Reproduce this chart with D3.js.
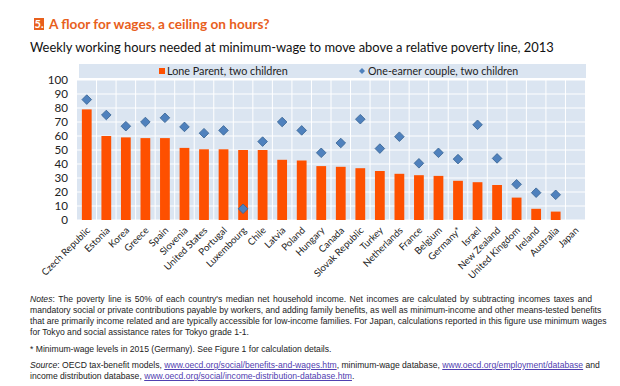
<!DOCTYPE html>
<html>
<head>
<meta charset="utf-8">
<script src="https://cdn.jsdelivr.net/npm/d3@7"></script>
<style>
  body { margin: 0; background: #fff; }
  #chart { position: relative; width: 620px; height: 386px; overflow: hidden; }
  .notes { position: absolute; left: 30px; width: 562px; margin: 0;
           font-family: "Liberation Sans", Arial, sans-serif; font-size: 8.6px;
           line-height: 11px; color: #222; }
  .notes div { text-align: justify; text-align-last: justify; white-space: nowrap; }
  .notes div.last { text-align-last: left; }
  .notes a { color: #5040b0; text-decoration: underline; }
</style>
</head>
<body>
<div id="chart"></div>
<script>
const countries = ["Czech Republic", "Estonia", "Korea", "Greece", "Spain", "Slovenia",
  "United States", "Portugal", "Luxembourg", "Chile", "Latvia", "Poland", "Hungary",
  "Canada", "Slovak Republic", "Turkey", "Netherlands", "France", "Belgium", "Germany*",
  "Israel", "New Zealand", "United Kingdom", "Ireland", "Australia", "Japan"];
const loneParent = [79, 60, 59, 58.5, 58.5, 51.5, 50.5, 50.5, 50, 50, 43, 42.5, 38.5,
  38, 37, 35, 33, 32, 31.5, 28, 27, 25, 16, 8, 6, null];
const oneEarnerCouple = [86, 75, 67, 70, 73, 66.5, 62, 64, 8, 56, 70, 64, 48,
  55, 72, 51, 59.5, 40.5, 48, 43.5, 68, 44, 25.5, 19.5, 18, null];
const yTicks = [0, 10, 20, 30, 40, 50, 60, 70, 80, 90, 100];
const seriesNames = ["Lone Parent, two children", "One-earner couple, two children"];

const width = 620, height = 386;
const plot = { left: 77, right: 585, top: 80, bottom: 220 };
const orange = "#fe5000", blue = "#4f81bd", bg = "#dbe5f1";
const font = "Lato, 'Open Sans', sans-serif";

const svg = d3.select("#chart").append("svg")
  .attr("width", width).attr("height", height)
  .style("position", "absolute").style("left", 0).style("top", 0);

// header
svg.append("rect").attr("x", 34).attr("y", 18).attr("width", 10).attr("height", 12)
  .attr("fill", "#e8601c");
svg.append("text").attr("x", 39).attr("y", 28).attr("text-anchor", "middle")
  .attr("font-family", font).attr("font-weight", "bold").attr("font-size", 11)
  .attr("fill", "#fff").text("5.");
svg.append("text").attr("x", 49).attr("y", 29)
  .attr("font-family", font).attr("font-weight", "bold").attr("font-size", 13.6)
  .attr("fill", "#e8601c").text("A floor for wages, a ceiling on hours?");
svg.append("text").attr("x", 30).attr("y", 52)
  .attr("font-family", font).attr("font-size", 12.9)
  .attr("fill", "#111").text("Weekly working hours needed at minimum-wage to move above a relative poverty line, 2013");

const x = d3.scaleBand().domain(countries)
  .range([plot.left, plot.right]).paddingInner(0.5).paddingOuter(0.25);
const y = d3.scaleLinear().domain([0, 100]).range([plot.bottom, plot.top]);

// plot background + grid
svg.append("rect").attr("x", plot.left).attr("y", y(100))
  .attr("width", plot.right - plot.left).attr("height", y(0) - y(100)).attr("fill", bg);
svg.append("g").selectAll("line").data(yTicks).join("line")
  .attr("x1", plot.left).attr("x2", plot.right)
  .attr("y1", d => y(d)).attr("y2", d => y(d))
  .attr("stroke", "#fff").attr("stroke-width", 1);
svg.append("g").selectAll("line").data(countries.slice(1)).join("line")
  .attr("x1", d => x(d) - x.step() * 0.25).attr("x2", d => x(d) - x.step() * 0.25)
  .attr("y1", y(100)).attr("y2", y(0))
  .attr("stroke", "#fff").attr("stroke-width", 1);

// legend band
svg.append("rect").attr("x", 79).attr("y", 64).attr("width", 507).attr("height", 14)
  .attr("fill", bg);
svg.append("rect").attr("x", 159).attr("y", 68).attr("width", 6).attr("height", 6)
  .attr("fill", orange);
svg.append("text").attr("x", 167).attr("y", 75).attr("font-family", font)
  .attr("font-size", 10.8).attr("fill", "#222").text(seriesNames[0]);
svg.append("path").attr("d", d3.symbol(d3.symbolSquare, 18)())
  .attr("transform", "translate(362,71) rotate(45)").attr("fill", blue);
svg.append("text").attr("x", 368).attr("y", 75).attr("font-family", font)
  .attr("font-size", 10.6).attr("fill", "#222").text(seriesNames[1]);

// bars
svg.append("g").selectAll("rect")
  .data(countries.map((c, i) => ({ c, v: loneParent[i] })).filter(d => d.v != null))
  .join("rect")
  .attr("x", d => x(d.c)).attr("width", x.bandwidth())
  .attr("y", d => y(d.v)).attr("height", d => y(0) - y(d.v))
  .attr("fill", orange);

// diamonds
svg.append("g").selectAll("path")
  .data(countries.map((c, i) => ({ c, v: oneEarnerCouple[i] })).filter(d => d.v != null))
  .join("path")
  .attr("d", d3.symbol(d3.symbolSquare, 46)())
  .attr("transform", d => `translate(${x(d.c) + x.bandwidth() / 2},${y(d.v)}) rotate(45)`)
  .attr("fill", blue).attr("stroke", "#3a6595").attr("stroke-width", 0.8);

// y axis
const yAxis = svg.append("g").attr("transform", `translate(${plot.left},0)`)
  .call(d3.axisLeft(y).tickValues(yTicks).tickSize(0).tickPadding(9));
yAxis.select(".domain").remove();
yAxis.selectAll("text").attr("font-family", font).attr("font-size", 11.6).attr("fill", "#222");

// x axis
const xAxis = svg.append("g").attr("transform", `translate(0,${plot.bottom})`)
  .call(d3.axisBottom(x).tickSize(0));
xAxis.select(".domain").remove();
xAxis.selectAll("text")
  .attr("font-family", font).attr("font-size", 9.6).attr("fill", "#222")
  .attr("text-anchor", "end").attr("dy", 0).attr("y", 0)
  .attr("transform", "translate(4,11) rotate(-45)");

// notes, line by line as in the original
const chart = d3.select("#chart");
const notes = [
  "<i>Notes</i>: The poverty line is 50% of each country's median net household income. Net incomes are calculated by subtracting incomes taxes and",
  "mandatory social or private contributions payable by workers, and adding family benefits, as well as minimum-income and other means-tested benefits",
  "that are primarily income related and are typically accessible for low-income families. For Japan, calculations reported in this figure use minimum wages",
  "for Tokyo and social assistance rates for Tokyo grade 1-1."
];
const footnote = ["* Minimum-wage levels in 2015 (Germany). See Figure 1 for calculation details."];
const source = [
  "<i>Source</i>: OECD tax-benefit models, <a>www.oecd.org/social/benefits-and-wages.htm</a>, minimum-wage database, <a>www.oecd.org/employment/database</a> and",
  "income distribution database, <a>www.oecd.org/social/income-distribution-database.htm</a>."
];
[[notes, 294], [footnote, 344], [source, 360]].forEach(([lines, top]) => {
  chart.append("div").attr("class", "notes").style("top", top + "px")
    .selectAll("div").data(lines).join("div")
    .classed("last", (d, i) => i === lines.length - 1)
    .html(d => d);
});
</script>
</body>
</html>
